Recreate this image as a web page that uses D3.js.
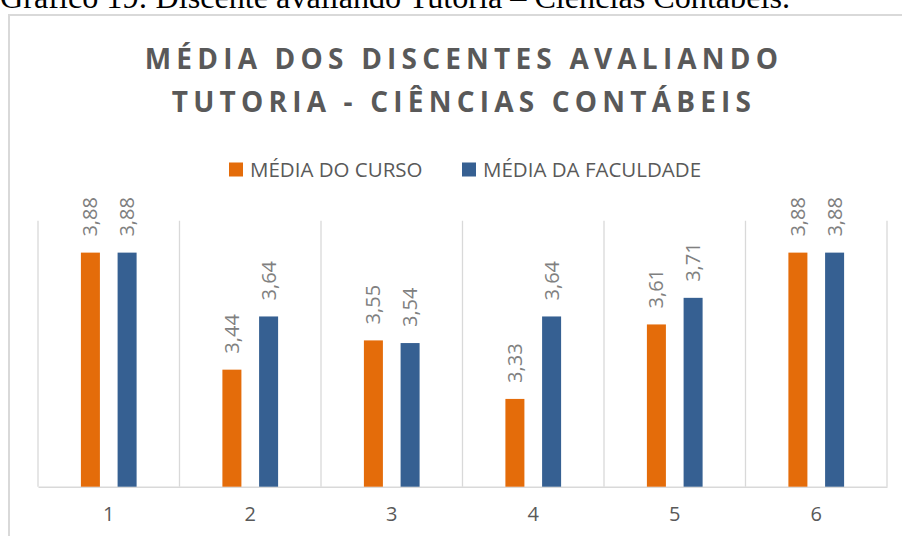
<!DOCTYPE html>
<html>
<head>
<meta charset="utf-8">
<script src="https://cdn.jsdelivr.net/npm/d3@7"></script>
<style>
  html, body { margin: 0; padding: 0; background: #fff; }
  svg { display: block; }
</style>
</head>
<body>
<svg id="chart" width="902" height="536"></svg>
<script>
const categories = ["1", "2", "3", "4", "5", "6"];
const seriesNames = ["MÉDIA DO CURSO", "MÉDIA DA FACULDADE"];
const mediaCurso = [3.88, 3.44, 3.55, 3.33, 3.61, 3.88];
const mediaFaculdade = [3.88, 3.64, 3.54, 3.64, 3.71, 3.88];
const seriesColors = ["#E46C0A", "#366092"];
const yDomain = [3, 4];
const captionText = "Gráfico 19: Discente avaliando Tutoria – Ciências Contábeis.";
const titleLines = ["MÉDIA DOS DISCENTES AVALIANDO", "TUTORIA - CIÊNCIAS CONTÁBEIS"];

const seriesValues = [mediaCurso, mediaFaculdade];
const fmt = v => v.toFixed(2).replace(".", ",");

const svg = d3.select("#chart");
const font = "'Open Sans', 'Noto Sans', sans-serif";

// caption above the chart box (cut by the top edge, as in the source)
svg.append("text")
  .attr("x", 0).attr("y", 8)
  .attr("font-family", "'Liberation Serif', 'Times New Roman', serif")
  .attr("font-size", 32)
  .attr("textLength", 790)
  .attr("lengthAdjust", "spacingAndGlyphs")
  .attr("fill", "#000")
  .text(captionText);

// chart frame
svg.append("rect")
  .attr("x", 9).attr("y", 15)
  .attr("width", 920).attr("height", 540)
  .attr("fill", "#fff")
  .attr("stroke", "#d9d9d9")
  .attr("stroke-width", 2);

// title
const title = svg.append("text")
  .attr("font-family", font)
  .attr("font-weight", 700)
  .attr("font-size", 28)
  .attr("fill", "#595959")
  .attr("letter-spacing", 5.2)
  .attr("text-anchor", "middle");
title.selectAll("tspan").data(titleLines).join("tspan")
  .attr("x", 464)
  .attr("y", (d, i) => 68.5 + i * 43.5)
  .text(d => d);

// scales
const plot = { left: 38, right: 887, top: 220.7, bottom: 486.7 };
const x0 = d3.scaleBand().domain(categories).range([plot.left, plot.right]).padding(0);
const x1 = d3.scaleBand().domain(seriesNames).range([0, x0.bandwidth()])
  .paddingInner(0.482).paddingOuter(1.169);
const y = d3.scaleLinear().domain(yDomain).range([plot.bottom, plot.top]);

// vertical category gridlines
const bounds = categories.map(c => x0(c)).concat([plot.right]);
svg.append("g").selectAll("line").data(bounds).join("line")
  .attr("x1", d => d).attr("x2", d => d)
  .attr("y1", plot.top).attr("y2", plot.bottom)
  .attr("stroke", "#d9d9d9").attr("stroke-width", 1.3);

// x axis
const xAxis = svg.append("g")
  .attr("transform", `translate(0,${plot.bottom})`)
  .call(d3.axisBottom(x0).tickSize(0).tickPadding(20));
xAxis.select(".domain").attr("stroke", "#d9d9d9").attr("stroke-width", 1.5);
xAxis.selectAll("text")
  .attr("font-family", font).attr("font-size", 20).attr("fill", "#595959");

// bars
const groups = svg.append("g").selectAll("g").data(categories).join("g")
  .attr("transform", c => `translate(${x0(c)},0)`);

const barData = (c, ci) => seriesNames.map((s, si) => ({ s, si, v: seriesValues[si][ci] }));

groups.selectAll("rect").data((c, ci) => barData(c, ci)).join("rect")
  .attr("x", d => x1(d.s))
  .attr("width", x1.bandwidth())
  .attr("y", d => y(d.v))
  .attr("height", d => y(yDomain[0]) - y(d.v))
  .attr("fill", d => seriesColors[d.si]);

groups.selectAll("text").data((c, ci) => barData(c, ci)).join("text")
  .attr("transform", d => `translate(${x1(d.s) + x1.bandwidth() / 2},${y(d.v) - 16}) rotate(-90)`)
  .attr("dy", "0.35em")
  .attr("font-family", font)
  .attr("font-size", 20)
  .attr("fill", "#808080")
  .text(d => fmt(d.v));

// legend
const legendItems = [
  { name: seriesNames[0], color: seriesColors[0], x: 229 },
  { name: seriesNames[1], color: seriesColors[1], x: 462 }
];
const lg = svg.append("g").selectAll("g").data(legendItems).join("g")
  .attr("transform", d => `translate(${d.x},0)`);
lg.append("rect").attr("x", 0).attr("y", 162.5).attr("width", 14).attr("height", 14)
  .attr("fill", d => d.color);
lg.append("text").attr("x", 21).attr("y", 177)
  .attr("font-family", font).attr("font-size", 20.5).attr("fill", "#595959")
  .text(d => d.name);
</script>
</body>
</html>
